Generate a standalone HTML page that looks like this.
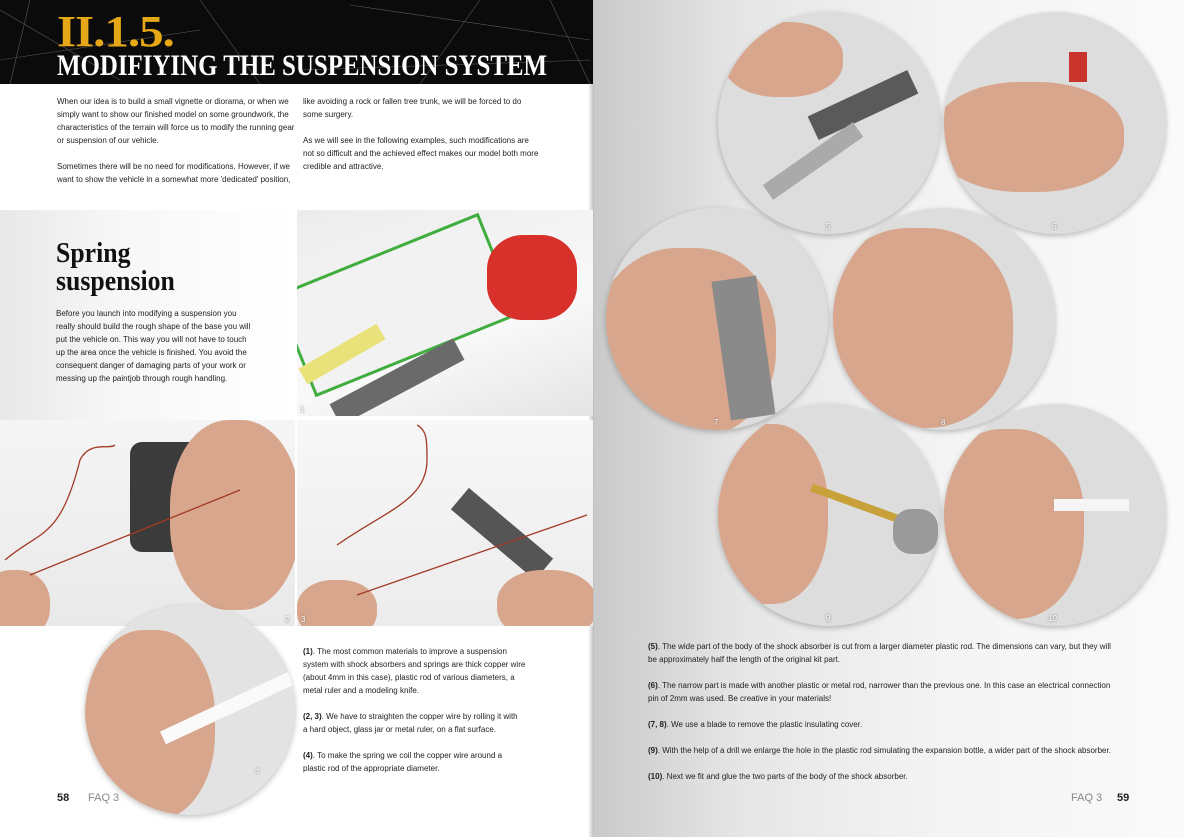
<!DOCTYPE html>
<html><head><meta charset="utf-8"><style>
*{margin:0;padding:0;box-sizing:border-box}
body{width:1184px;height:837px;position:relative;overflow:hidden;background:#fff;font-family:"Liberation Sans",sans-serif;color:#222}
.a{position:absolute}
.t{font-size:8px;line-height:13px;color:#222;white-space:nowrap}
.c{position:absolute;border-radius:50%;overflow:hidden;background:#ddd;box-shadow:0 2px 6px rgba(0,0,0,.25)}
.sk{position:absolute;border-radius:45%;background:#d8a68c}
.n{position:absolute;font-size:8px;color:#fff;text-shadow:0 0 2px #555}
</style></head><body>
<div class="a" style="left:593px;top:0;width:591px;height:837px;background:linear-gradient(90deg,#c9c9c9 0%,#e6e6e6 25%,#f4f4f4 60%,#fafafa 100%)"></div>
<div class="a" style="left:588px;top:0;width:6px;height:837px;background:linear-gradient(90deg,#fff,#bbb)"></div>
<div class="a" style="left:0;top:0;width:593px;height:84px;background:#0b0b0b;overflow:hidden">
<svg width="593" height="84"><g stroke="#777" stroke-width=".6" opacity=".7">
<line x1="0" y1="10" x2="120" y2="80"/><line x1="30" y1="0" x2="10" y2="84"/><line x1="200" y1="0" x2="260" y2="84"/><line x1="350" y1="5" x2="590" y2="40"/><line x1="480" y1="0" x2="420" y2="84"/><line x1="550" y1="0" x2="590" y2="84"/><line x1="0" y1="60" x2="200" y2="30"/><line x1="300" y1="70" x2="590" y2="60"/></g></svg>
</div>
<div class="a" style="left:57px;top:6px;font-family:'Liberation Serif',serif;font-weight:bold;font-size:44px;color:#e6a817;letter-spacing:-1px;transform:scaleX(1.12);transform-origin:left top">II.1.5.</div>
<div class="a" style="left:57px;top:49px;font-family:'Liberation Serif',serif;font-weight:bold;font-size:30px;color:#fff;transform:scaleX(0.83);transform-origin:left top;white-space:nowrap">MODIFIYING THE SUSPENSION SYSTEM</div>
<div class="a t" style="left:57px;top:95px">When our idea is to build a small vignette or diorama, or when we<br>simply want to show our finished model on some groundwork, the<br>characteristics of the terrain will force us to modify the running gear<br>or suspension of our vehicle.<br><br>Sometimes there will be no need for modifications. However, if we<br>want to show the vehicle in a somewhat more 'dedicated' position,</div>
<div class="a t" style="left:303px;top:95px">like avoiding a rock or fallen tree trunk, we will be forced to do<br>some surgery.<br><br>As we will see in the following examples, such modifications are<br>not so difficult and the achieved effect makes our model both more<br>credible and attractive.</div>
<div class="a" style="left:0;top:210px;width:295px;height:210px;background:linear-gradient(90deg,#e8e8e8,#f7f7f7 40%,#fff)"></div>
<div class="a" style="left:56px;top:240px;font-family:'Liberation Serif',serif;font-weight:bold;font-size:28px;line-height:28px;color:#111;transform:scaleX(0.92);transform-origin:left top">Spring<br>suspension</div>
<div class="a t" style="left:56px;top:307px">Before you launch into modifying a suspension you<br>really should build the rough shape of the base you will<br>put the vehicle on. This way you will not have to touch<br>up the area once the vehicle is finished. You avoid the<br>consequent danger of damaging parts of your work or<br>messing up the paintjob through rough handling.</div>
<div class="a" style="left:297px;top:210px;width:296px;height:206px;background:linear-gradient(160deg,#ececec,#f9f9f9 60%,#e4e4e4);overflow:hidden">
<div class="a" style="left:-10px;top:40px;width:220px;height:110px;background:#f2f2f2;border:3px solid #3fae3f;transform:rotate(-22deg)"></div>
<div class="a" style="left:190px;top:25px;width:90px;height:85px;border-radius:40%;background:#d8302a"></div>
<div class="a" style="left:0;top:135px;width:90px;height:18px;background:#e9e27a;transform:rotate(-30deg)"></div>
<div class="a" style="left:30px;top:160px;width:140px;height:24px;background:#6a6a6a;transform:rotate(-28deg)"></div>
<div class="n" style="left:3px;top:195px">1</div></div>
<div class="a" style="left:0;top:420px;width:295px;height:206px;background:linear-gradient(180deg,#f5f5f5,#e9e9e9);overflow:hidden">
<div class="a" style="left:130px;top:22px;width:80px;height:110px;border-radius:12px;background:#3b3b3b"></div>
<div class="sk" style="left:170px;top:0;width:130px;height:190px"></div>
<div class="sk" style="left:-20px;top:150px;width:70px;height:70px"></div>
<svg class="a" style="left:0;top:0" width="295" height="206"><path d="M5 140 C40 110 60 120 80 40 C90 20 110 30 115 25" stroke="#a23a25" fill="none" stroke-width="1.3"/><path d="M30 155 L240 70" stroke="#a23a25" stroke-width="1.3"/></svg>
<div class="n" style="left:285px;top:195px">2</div></div>
<div class="a" style="left:297px;top:420px;width:296px;height:206px;background:linear-gradient(180deg,#f7f7f7,#ececec);overflow:hidden">
<div class="a" style="left:150px;top:100px;width:110px;height:28px;background:#555;transform:rotate(40deg)"></div>
<div class="sk" style="left:200px;top:150px;width:100px;height:70px"></div>
<div class="sk" style="left:0;top:160px;width:80px;height:60px"></div>
<svg class="a" style="left:0;top:0" width="296" height="206"><path d="M40 125 C90 90 130 80 130 40 C130 20 130 10 120 5" stroke="#a23a25" fill="none" stroke-width="1.3"/><path d="M60 175 L290 95" stroke="#a23a25" stroke-width="1.3"/></svg>
<div class="n" style="left:4px;top:195px">3</div></div>
<div class="c" style="left:85px;top:605px;width:210px;height:210px;background:#e3e3e3">
<div class="sk" style="left:0;top:25px;width:130px;height:190px"></div>
<div class="a" style="left:70px;top:90px;width:170px;height:14px;background:#fafafa;transform:rotate(-25deg)"></div>
<div class="n" style="left:170px;top:162px">4</div></div>
<div class="a t" style="left:303px;top:645px"><b>(1)</b>. The most common materials to improve a suspension<br>system with shock absorbers and springs are thick copper wire<br>(about 4mm in this case), plastic rod of various diameters, a<br>metal ruler and a modeling knife.<br><br><b>(2, 3)</b>. We have to straighten the copper wire by rolling it with<br>a hard object, glass jar or metal ruler, on a flat surface.<br><br><b>(4)</b>. To make the spring we coil the copper wire around a<br>plastic rod of the appropriate diameter.</div>
<div class="a" style="left:57px;top:792px;font-size:11px;font-weight:bold">58</div>
<div class="a" style="left:88px;top:792px;font-size:11px;color:#888">FAQ 3</div>
<div class="c" style="left:718px;top:12px;width:222px;height:222px"><div class="sk" style="left:5px;top:10px;width:120px;height:75px"></div><div class="a" style="left:90px;top:80px;width:110px;height:26px;background:#5a5a5a;transform:rotate(-25deg)"></div><div class="a" style="left:40px;top:140px;width:110px;height:18px;background:#aaa;transform:rotate(-35deg)"></div><div class="n" style="left:108px;top:210px">5</div></div>
<div class="c" style="left:944px;top:12px;width:222px;height:222px"><div class="sk" style="left:-10px;top:70px;width:190px;height:110px"></div><div class="a" style="left:125px;top:40px;width:18px;height:30px;background:#c9342d"></div><div class="n" style="left:108px;top:210px">6</div></div>
<div class="c" style="left:606px;top:208px;width:222px;height:222px"><div class="sk" style="left:-10px;top:40px;width:180px;height:190px"></div><div class="a" style="left:115px;top:70px;width:45px;height:140px;background:#8a8a8a;transform:rotate(-8deg)"></div><div class="n" style="left:108px;top:210px">7</div></div>
<div class="c" style="left:833px;top:208px;width:222px;height:222px"><div class="sk" style="left:-10px;top:20px;width:190px;height:200px"></div><div class="n" style="left:108px;top:210px">8</div></div>
<div class="c" style="left:718px;top:404px;width:222px;height:222px"><div class="sk" style="left:-10px;top:20px;width:120px;height:180px"></div><div class="a" style="left:90px;top:100px;width:120px;height:8px;background:#c9a13a;transform:rotate(20deg)"></div><div class="a" style="left:175px;top:105px;width:45px;height:45px;border-radius:40%;background:#9a9a9a"></div><div class="n" style="left:108px;top:210px">9</div></div>
<div class="c" style="left:944px;top:404px;width:222px;height:222px"><div class="sk" style="left:-10px;top:25px;width:150px;height:190px"></div><div class="a" style="left:110px;top:95px;width:75px;height:12px;background:#f5f5f5"></div><div class="n" style="left:104px;top:210px">10</div></div>
<div class="a t" style="left:648px;top:640px"><b>(5)</b>. The wide part of the body of the shock absorber is cut from a larger diameter plastic rod. The dimensions can vary, but they will<br>be approximately half the length of the original kit part.<br><br><b>(6)</b>. The narrow part is made with another plastic or metal rod, narrower than the previous one. In this case an electrical connection<br>pin of 2mm was used. Be creative in your materials!<br><br><b>(7, 8)</b>. We use a blade to remove the plastic insulating cover.<br><br><b>(9)</b>. With the help of a drill we enlarge the hole in the plastic rod simulating the expansion bottle, a wider part of the shock absorber.<br><br><b>(10)</b>. Next we fit and glue the two parts of the body of the shock absorber.</div>
<div class="a" style="left:1071px;top:792px;font-size:11px;color:#888">FAQ 3</div>
<div class="a" style="left:1117px;top:792px;font-size:11px;font-weight:bold">59</div>
</body></html>
